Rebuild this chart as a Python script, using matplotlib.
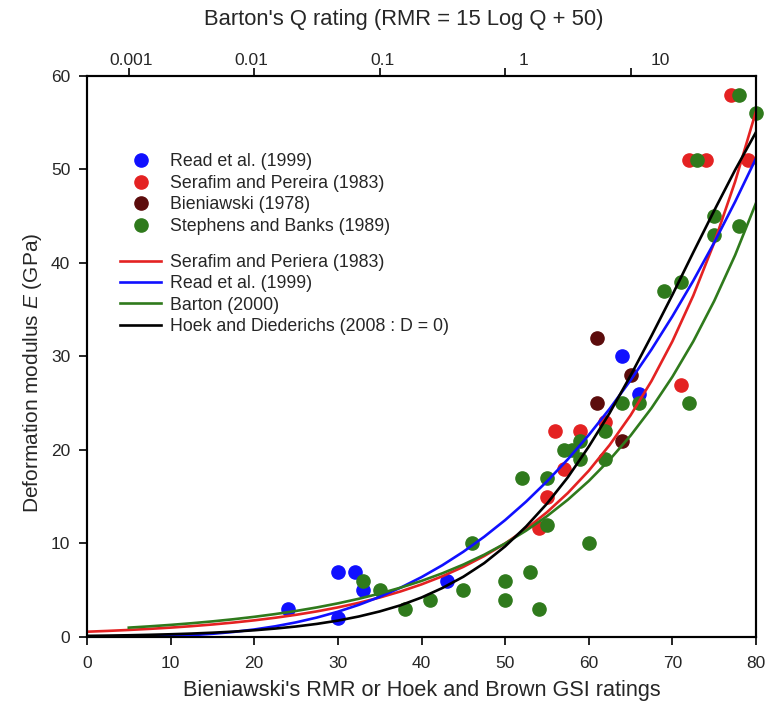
import numpy as np
import matplotlib
matplotlib.use("Agg")
import matplotlib.pyplot as plt

plt.rcParams['font.family'] = ['Liberation Sans', 'DejaVu Sans']
plt.rcParams['mathtext.fontset'] = 'custom'
plt.rcParams['mathtext.rm'] = 'Liberation Sans'
plt.rcParams['mathtext.it'] = 'Liberation Sans:italic'

# ---------- measured points ----------
read_x = [24, 30, 32, 33, 30, 43, 64, 66]
read_y = [3, 7, 7, 5, 2, 6, 30, 26]

serafim_x = [54, 55, 56, 57, 59, 62, 71, 72, 74, 77, 79]
serafim_y = [11.7, 15, 22, 18, 22, 23, 27, 51, 51, 58, 51]

bieni_x = [61, 65, 61, 64]
bieni_y = [32, 28, 25, 21]

stephens_x = [33, 35, 38, 41, 45, 46, 50, 50, 52, 53, 54, 55, 55, 57, 58, 59, 59,
              60, 62, 62, 64, 66, 69, 71, 72, 73, 75, 75, 78, 78, 80]
stephens_y = [6, 5, 3, 4, 5, 10, 6, 4, 17, 7, 3, 12, 17, 20, 20, 21, 19,
              10, 22, 19, 25, 25, 37, 38, 25, 51, 45, 43, 44, 58, 56]

# ---------- empirical curves (read at RMR = 0, 2.5, ..., 80) ----------
rmr = [0, 2.5, 5, 7.5, 10, 12.5, 15, 17.5, 20, 22.5, 25, 27.5, 30, 32.5, 35, 37.5,
       40, 42.5, 45, 47.5, 50, 52.5, 55, 57.5, 60, 62.5, 65, 67.5, 70, 72.5, 75,
       77.5, 80]
curve_serafim = [0.562, 0.649, 0.750, 0.866, 1.0, 1.155, 1.334, 1.540, 1.778, 2.054,
                 2.371, 2.738, 3.162, 3.652, 4.217, 4.870, 5.623, 6.494, 7.499, 8.660,
                 10.0, 11.55, 13.34, 15.40, 17.78, 20.54, 23.71, 27.38, 31.62, 36.52,
                 42.17, 48.70, 56.23]
curve_read = [0.0, 0.002, 0.0125, 0.042, 0.1, 0.195, 0.338, 0.536, 0.8, 1.139,
              1.563, 2.080, 2.7, 3.433, 4.288, 5.273, 6.4, 7.677, 9.113, 10.72,
              12.5, 14.47, 16.64, 19.01, 21.6, 24.41, 27.46, 30.75, 34.3, 38.11,
              42.19, 46.55, 51.2]
curve_barton = [np.nan, np.nan, 1.0, 1.137, 1.292, 1.468, 1.668, 1.896, 2.154, 2.448,
                2.783, 3.162, 3.594, 4.084, 4.642, 5.275, 5.995, 6.813, 7.743, 8.799,
                10.0, 11.37, 12.92, 14.68, 16.68, 18.96, 21.54, 24.48, 27.83, 31.62,
                35.94, 40.84, 46.42]
curve_hoek = [0.117, 0.147, 0.184, 0.231, 0.290, 0.364, 0.456, 0.571, 0.716, 0.898,
              1.12, 1.40, 1.75, 2.19, 2.73, 3.39, 4.22, 5.24, 6.44, 7.90,
              9.69, 11.81, 14.26, 17.08, 20.36, 23.96, 27.96, 32.21, 36.59, 41.14,
              45.61, 49.95, 54.0]

# top axis: Barton's Q
q_values = [0.001, 0.01, 0.1, 1, 10, 100]
q_labels = ['0.001', '0.01', '0.1', '1', '10', '']

c_blue = '#1010ff'
c_red = '#e42222'
c_maroon = '#5c0c0c'
c_green = '#2f7a1c'
c_text = '#262626'

fig, ax = plt.subplots(figsize=(7.67, 7.05), dpi=100)
fig.subplots_adjust(left=0.1134, right=0.9857, bottom=0.0965, top=0.8922)

ms = 9.5
pts = [
    (read_x, read_y, c_blue, 'Read et al. (1999)'),
    (serafim_x, serafim_y, c_red, 'Serafim and Pereira (1983)'),
    (bieni_x, bieni_y, c_maroon, 'Bieniawski (1978)'),
    (stephens_x, stephens_y, c_green, 'Stephens and Banks (1989)'),
]
pt_handles = []
for xs, ys, c, lab in pts:
    h, = ax.plot(xs, ys, 'o', ms=ms, color=c, mec=c, ls='none', label=lab,
                 zorder=2, clip_on=False)
    pt_handles.append(h)

curves = [
    (curve_serafim, c_red, 'Serafim and Periera (1983)'),
    (curve_read, c_blue, 'Read et al. (1999)'),
    (curve_barton, c_green, 'Barton (2000)'),
    (curve_hoek, 'black', 'Hoek and Diederichs (2008 : D = 0)'),
]
ln_handles = []
for ys, c, lab in curves:
    h, = ax.plot(rmr, ys, '-', lw=1.9, color=c, label=lab, zorder=3)
    ln_handles.append(h)

ax.set_xlim(0, 80)
ax.set_ylim(0, 60)
ax.set_xticks(range(0, 81, 10))
ax.set_yticks(range(0, 61, 10))
ax.tick_params(direction='out', length=6, width=1.2, labelsize=12.5,
               colors='black', labelcolor=c_text, pad=8)
ax.tick_params(axis='y', pad=6)
for s in ax.spines.values():
    s.set_linewidth(1.5)

ax.set_xlabel("Bieniawski's RMR or Hoek and Brown GSI ratings", fontsize=15.6,
              color=c_text, labelpad=6)
ax.set_ylabel("Deformation modulus $\\mathit{E}$ (GPa)", fontsize=15,
              color=c_text, labelpad=4)
ax.yaxis.set_label_coords(-0.064, 0.47)

# secondary axis on top
ax2 = ax.twiny()
ax2.set_xlim(ax.get_xlim())
q_pos = [15 * np.log10(q) + 50 for q in q_values]
label_shift = [0.3, -0.3, 0.3, 2.2, 3.5, 0]
ax2.set_xticks(q_pos, minor=True)
ax2.set_xticks([p + d for p, d in zip(q_pos, label_shift)])
ax2.set_xticklabels(q_labels)
ax2.tick_params(which='major', length=0, labelsize=12.5, labelcolor=c_text, pad=6)
ax2.tick_params(which='minor', direction='out', length=6, width=1.2)
for s in ax2.spines.values():
    s.set_linewidth(1.5)
fig.text(404 / 767, 1 - 20 / 705, "Barton's Q rating (RMR = 15 Log Q + 50)",
         ha='center', va='center', fontsize=15.8, color=c_text)

leg_kw = dict(loc='upper left', frameon=False, fontsize=12.8, handlelength=2.3,
              handletextpad=0.5, labelspacing=0.25, borderpad=0, borderaxespad=0)
leg1 = ax.legend(handles=pt_handles, bbox_to_anchor=(0.05, 0.862), **leg_kw)
for t in leg1.get_texts():
    t.set_color(c_text)
ax.add_artist(leg1)
leg2 = ax.legend(handles=ln_handles, bbox_to_anchor=(0.05, 0.683), **leg_kw)
for t in leg2.get_texts():
    t.set_color(c_text)

fig.savefig('out.png', dpi=100)
